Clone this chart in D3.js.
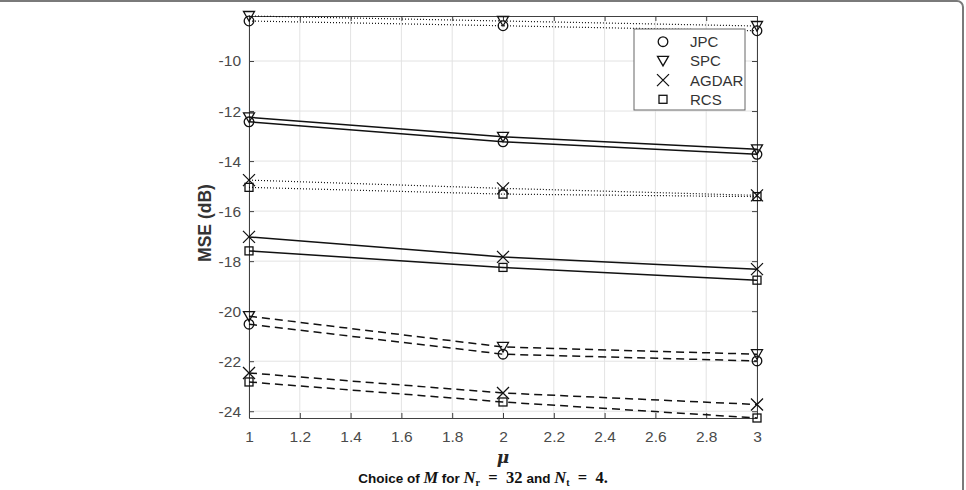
<!DOCTYPE html>
<html>
<head>
<meta charset="utf-8">
<script src="https://cdn.jsdelivr.net/npm/d3@7"></script>
<style>
  body { margin: 0; background: #fff; }
  svg { display: block; font-family: "Liberation Sans", Arial, sans-serif; }
</style>
</head>
<body>
<svg id="graph" width="966" height="490"></svg>
<script>
// valores
const mu = [1, 2, 3];
const xTicks = [1, 1.2, 1.4, 1.6, 1.8, 2, 2.2, 2.4, 2.6, 2.8, 3];
const yTicks = [-24, -22, -20, -18, -16, -14, -12, -10];
const metodos = ["JPC", "SPC", "AGDAR", "RCS"];

const jpcDotted = [-8.40, -8.59, -8.79];
const spcDotted = [-8.20, -8.40, -8.60];
const agdarDotted = [-14.76, -15.09, -15.37];
const rcsDotted = [-15.05, -15.32, -15.42];
const jpcSolid = [-12.43, -13.23, -13.73];
const spcSolid = [-12.25, -13.03, -13.53];
const agdarSolid = [-17.03, -17.83, -18.32];
const rcsSolid = [-17.59, -18.25, -18.76];
const jpcDashed = [-20.52, -21.72, -21.99];
const spcDashed = [-20.20, -21.43, -21.72];
const agdarDashed = [-22.47, -23.27, -23.73];
const rcsDashed = [-22.83, -23.63, -24.27];

const series = [
    { metodo: "JPC", estilo: "dotted", valores: jpcDotted },
    { metodo: "SPC", estilo: "dotted", valores: spcDotted },
    { metodo: "AGDAR", estilo: "dotted", valores: agdarDotted },
    { metodo: "RCS", estilo: "dotted", valores: rcsDotted },
    { metodo: "JPC", estilo: "solid", valores: jpcSolid },
    { metodo: "SPC", estilo: "solid", valores: spcSolid },
    { metodo: "AGDAR", estilo: "solid", valores: agdarSolid },
    { metodo: "RCS", estilo: "solid", valores: rcsSolid },
    { metodo: "JPC", estilo: "dashed", valores: jpcDashed },
    { metodo: "SPC", estilo: "dashed", valores: spcDashed },
    { metodo: "AGDAR", estilo: "dashed", valores: agdarDashed },
    { metodo: "RCS", estilo: "dashed", valores: rcsDashed }
];

let svg = d3.select("#graph");
var margin = { top: 16, right: 209, bottom: 72, left: 249 };
var width = +svg.attr("width") - margin.left - margin.right;
var height = +svg.attr("height") - margin.top - margin.bottom;

// marco redondeado de la figura (recortado)
svg.append("rect")
    .attr("x", -8).attr("y", 1)
    .attr("width", 971).attr("height", 520)
    .attr("rx", 6)
    .attr("fill", "none")
    .attr("stroke", "#7a7a7a")
    .attr("stroke-width", 2);

var g = svg.append("g").attr("transform", "translate(" + margin.left + "," + margin.top + ")");

var x = d3.scaleLinear().domain([1, 3]).range([0, width]);
var todos = series.flatMap(s => s.valores);
var y = d3.scaleLinear().domain(d3.extent(todos)).range([height, 0]);

// grid
g.append("g").selectAll("line").data(xTicks).enter().append("line")
    .attr("x1", d => x(d)).attr("x2", d => x(d))
    .attr("y1", 0).attr("y2", height)
    .attr("stroke", "#e3e3e3").attr("stroke-width", 1);
g.append("g").selectAll("line").data(yTicks).enter().append("line")
    .attr("x1", 0).attr("x2", width)
    .attr("y1", d => y(d)).attr("y2", d => y(d))
    .attr("stroke", "#e3e3e3").attr("stroke-width", 1);

// ejes
const colorEje = "#404040";
var xAxis = g.append("g").attr("transform", "translate(0," + height + ")")
    .call(d3.axisBottom(x).tickValues(xTicks).tickSizeInner(-5).tickSizeOuter(0).tickPadding(13).tickFormat(d3.format("")));
var xAxisTop = g.append("g")
    .call(d3.axisTop(x).tickValues(xTicks).tickSizeInner(-5).tickSizeOuter(0).tickFormat(""));
var yAxis = g.append("g")
    .call(d3.axisLeft(y).tickValues(yTicks).tickSizeInner(-5).tickSizeOuter(0).tickPadding(8).tickFormat(d => d));
var yAxisRight = g.append("g").attr("transform", "translate(" + width + ",0)")
    .call(d3.axisRight(y).tickValues(yTicks).tickSizeInner(-5).tickSizeOuter(0).tickFormat(""));

[xAxis, xAxisTop, yAxis, yAxisRight].forEach(a => {
    a.attr("font-size", null);
    a.select(".domain").attr("stroke", colorEje).attr("stroke-width", 1);
    a.selectAll(".tick line").attr("stroke", colorEje);
    a.selectAll(".tick text").attr("fill", "#4a4a4a").style("font-size", "15.5px")
        .style("font-family", "'Liberation Sans', Arial, sans-serif");
});

// lineas
const dashes = { solid: null, dotted: "1,2", dashed: "8,5" };
var line = d3.line().x((d, i) => x(mu[i])).y(d => y(d));
g.append("g").selectAll("path").data(series).enter().append("path")
    .attr("d", d => line(d.valores))
    .attr("fill", "none")
    .attr("stroke", "#111")
    .attr("stroke-width", d => d.estilo === "dotted" ? 1.2 : 1.5)
    .attr("stroke-dasharray", d => dashes[d.estilo]);

// marcadores
function marcador(sel, metodo) {
    sel.attr("fill", "none").attr("stroke", "#111").attr("stroke-width", 1.3);
    if (metodo === "JPC") {
        sel.append("circle").attr("r", 4.8);
    } else if (metodo === "SPC") {
        sel.append("path").attr("d", "M-5.5,-4.5L5.5,-4.5L0,5Z");
    } else if (metodo === "AGDAR") {
        sel.append("path").attr("d", "M-6,-6L6,6M-6,6L6,-6");
    } else {
        sel.append("rect").attr("x", -4).attr("y", -4).attr("width", 8).attr("height", 8);
    }
}
series.forEach(s => {
    s.valores.forEach((v, i) => {
        let m = g.append("g").attr("transform", "translate(" + x(mu[i]) + "," + y(v) + ")");
        marcador(m, s.metodo);
    });
});

// leyenda
let espaciado = 19.2;
let leg = svg.append("g").attr("transform", "translate(634,29)");
leg.append("rect").attr("width", 111).attr("height", 81)
    .attr("fill", "#fff").attr("stroke", "#666").attr("stroke-width", 1);
metodos.forEach((m, i) => {
    let fila = leg.append("g").attr("transform", "translate(0," + (12.7 + i * espaciado) + ")");
    marcador(fila.append("g").attr("transform", "translate(29,0)"), m);
    fila.append("text").attr("x", 56).attr("dy", "0.36em")
        .style("font-size", "15px").attr("fill", "#333").text(m);
});

// etiqueta eje y
svg.append("text")
    .attr("transform", "translate(211,223) rotate(-90)")
    .attr("text-anchor", "middle")
    .style("font-size", "17.5px").style("font-weight", "bold")
    .attr("fill", "#333")
    .text("MSE (dB)");

// etiqueta eje x
svg.append("text")
    .attr("x", margin.left + width / 2).attr("y", 463)
    .attr("text-anchor", "middle")
    .style("font-family", "'DejaVu Serif', 'Liberation Serif', serif")
    .style("font-size", "17px").style("font-weight", "bold").style("font-style", "italic")
    .attr("fill", "#262626")
    .text("μ");

// leyenda de la figura
let cap = svg.append("text")
    .attr("x", 483).attr("y", 483)
    .attr("text-anchor", "middle")
    .style("font-size", "13.5px").style("font-weight", "bold")
    .attr("fill", "#111");
const serifIt = "'Liberation Serif', 'DejaVu Serif', serif";
cap.append("tspan").text("Choice of ");
cap.append("tspan").style("font-family", serifIt).style("font-style", "italic").style("font-size", "16.5px").text("M");
cap.append("tspan").text(" for ");
cap.append("tspan").style("font-family", serifIt).style("font-style", "italic").style("font-size", "16.5px").text("N");
cap.append("tspan").attr("dy", 3).style("font-size", "10px").style("font-family", serifIt).text("r");
cap.append("tspan").attr("dy", -3).style("font-family", serifIt).style("font-size", "16.5px").text("\u2002=\u200232 ");
cap.append("tspan").text("and ");
cap.append("tspan").style("font-family", serifIt).style("font-style", "italic").style("font-size", "16.5px").text("N");
cap.append("tspan").attr("dy", 3).style("font-size", "10px").style("font-family", serifIt).text("t");
cap.append("tspan").attr("dy", -3).style("font-family", serifIt).style("font-size", "16.5px").text("\u2002=\u20024.");
</script>
</body>
</html>
